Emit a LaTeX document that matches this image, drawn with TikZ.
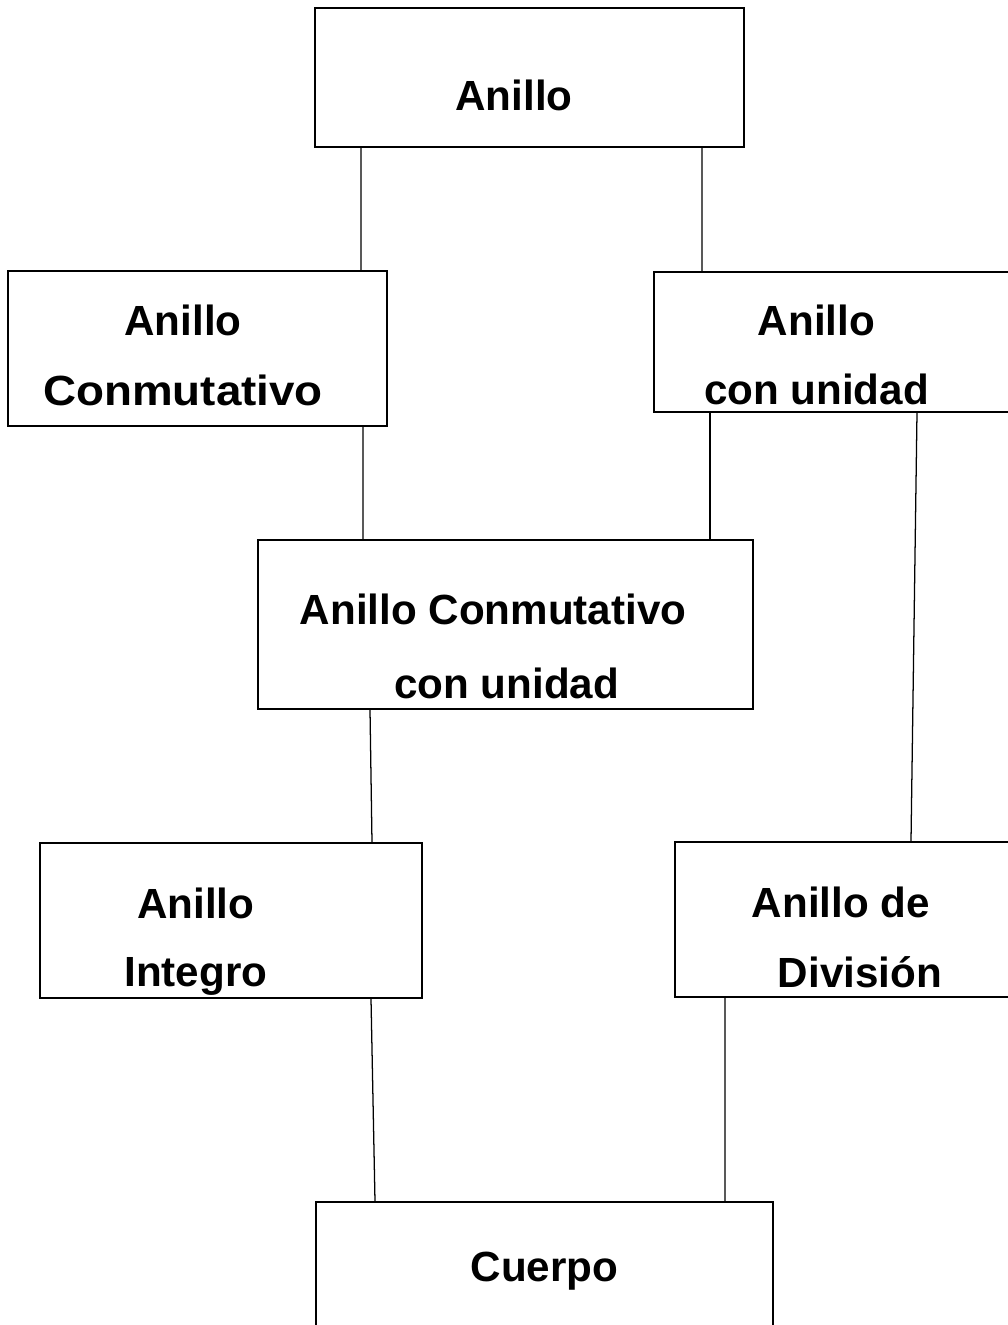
\documentclass[tikz,border=0pt]{standalone}
\usepackage{fontspec}
\usepackage{graphicx}
\setmainfont{Liberation Sans}
\usetikzlibrary{positioning, calc}

\begin{document}
\begin{tikzpicture}[node distance=7cm, on grid, line width=0.9pt,
	caja/.style={draw, rectangle, inner sep=0pt},
	texto/.style={align=center, inner sep=0pt, font=\bfseries\fontsize{30}{36}\selectfont}]
	\useasboundingbox (0,0) rectangle (25.2,-33.125);

	%Cajas:
	\node[caja, minimum width=10.725cm, minimum height=3.475cm]	(anillo)	at (13.2375,-1.9375)			{};
	\node[caja, minimum width=9.475cm, minimum height=3.875cm]	(conmut)	[below left=6.775cm and 8.3cm of anillo]	{};
	\node[caja, minimum width=9.025cm, minimum height=3.5cm]	(unidad)	[below right=6.6125cm and 7.625cm of anillo]	{};
	\node[caja, minimum width=12.375cm, minimum height=4.225cm]	(ccu)		[below left=13.675cm and 0.6cm of anillo]	{};
	\node[caja, minimum width=9.55cm, minimum height=3.875cm]	(integro)	[below left=7.4cm and 6.8625cm of ccu]		{};
	\node[caja, minimum width=8.5cm, minimum height=3.875cm]	(division)	[below right=7.375cm and 8.4875cm of ccu]	{};
	\node[caja, minimum width=11.425cm, minimum height=3.45cm]	(cuerpo)	[below right=16.1625cm and 0.975cm of ccu]	{};

	%Textos:
	\node[texto] (t-anillo)   at ([xshift=-0.39cm, yshift=-0.46cm]anillo)   {Anillo};
	\node[texto] (t-conmut)   at ([xshift=-0.36cm, yshift=-0.17cm]conmut)   {Anillo\\[13.5pt]\scalebox{1.085}[1]{Conmutativo}};
	\node[texto] (t-unidad)   at ([xshift=-0.45cm, yshift=-0.32cm]unidad)   {Anillo\\[13pt]con unidad};
	\node[texto] (t-ccu)      at ([xshift=-0.31cm, yshift=-0.55cm]ccu)      {Anillo Conmutativo\\[16.6pt]\hspace*{0.68cm}con unidad};
	\node[texto] (t-integro)  at ([xshift=-0.88cm, yshift=-0.53cm]integro)  {Anillo\\[13pt]Integro};
	\node[texto] (t-division) at ([xshift=-0.1cm, yshift=-0.45cm]division)  {Anillo de\\[13.8pt]\hspace*{0.95cm}División};
	\node[texto] (t-cuerpo)   at (cuerpo)                                   {Cuerpo};

	%Conexiones:
	%(caja de arriba) edge (caja de abajo)
	\path[draw]
	([xshift=-4.2125cm]anillo.south)	edge	([xshift=4.0875cm]conmut.north)
	([xshift=4.3125cm]anillo.south)		edge	([xshift=-3.3125cm]unidad.north)
	([xshift=4.1375cm]conmut.south)		edge	([xshift=-3.5625cm]ccu.north)
	([xshift=-3.1125cm]unidad.south)	edge	([xshift=5.1125cm]ccu.north)
	([xshift=2.0625cm]unidad.south)		edge	([xshift=1.65cm]division.north)
	([xshift=-3.3875cm]ccu.south)		edge	([xshift=3.525cm]integro.north)
	([xshift=3.5cm]integro.south)		edge	([xshift=-4.2375cm]cuerpo.north)
	([xshift=-3cm]division.south)		edge	([xshift=4.5125cm]cuerpo.north);
\end{tikzpicture}
\end{document}
